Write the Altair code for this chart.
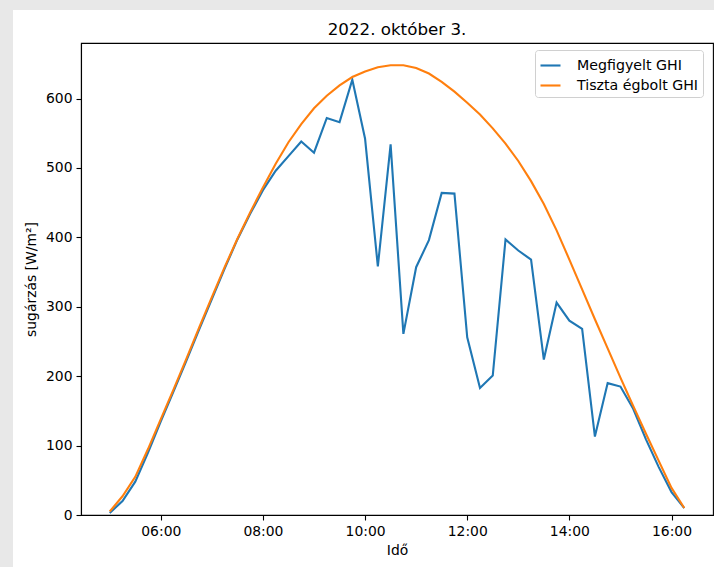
import altair as alt
import pandas as pd

date = "2022-10-03"
title_text = "2022. október 3."
times = ["05:00", "05:15", "05:30", "05:45", "06:00", "06:15", "06:30", "06:45",
         "07:00", "07:15", "07:30", "07:45", "08:00", "08:15", "08:30", "08:45",
         "09:00", "09:15", "09:30", "09:45", "10:00", "10:15", "10:30", "10:45",
         "11:00", "11:15", "11:30", "11:45", "12:00", "12:15", "12:30", "12:45",
         "13:00", "13:15", "13:30", "13:45", "14:00", "14:15", "14:30", "14:45",
         "15:00", "15:15", "15:30", "15:45", "16:00", "16:15"]
observed = [3, 20, 48, 90, 135, 178, 222, 267, 311, 355, 397, 434, 468, 496, 517, 538,
            522, 572, 566, 627, 542, 358, 534, 261, 357, 396, 464, 463, 256, 183, 201, 397,
            381, 368, 224, 306, 280, 268, 113, 190, 185, 153, 109, 69, 33, 10]
clearsky = [5, 27, 55, 95, 138, 181, 225, 270, 314, 357, 398, 436, 472, 506, 537, 563,
            586, 604, 619, 631, 639, 645, 648, 648, 644, 636, 624, 610, 594, 577, 557, 535,
            510, 481, 448, 410, 368, 325, 282, 240, 198, 157, 117, 78, 39, 10]
series_names = ["Megfigyelt GHI", "Tiszta égbolt GHI"]
series_colors = ["#1f77b4", "#ff7f0e"]
x_ticks = ["06:00", "08:00", "10:00", "12:00", "14:00", "16:00"]
y_ticks = [0, 100, 200, 300, 400, 500, 600]

rows = []
for t, o, c in zip(times, observed, clearsky):
    rows.append({"Idő": f"{date}T{t}:00", "series": series_names[0], "value": o})
    rows.append({"Idő": f"{date}T{t}:00", "series": series_names[1], "value": c})
df = pd.DataFrame(rows)


def dt(h, m=0, s=0):
    return alt.DateTime(year=2022, month=10, date=3, hours=h, minutes=m, seconds=s)


FONT = "DejaVu Sans"

lines = alt.Chart(df).mark_line(strokeWidth=2.1, clip=True).encode(
    x=alt.X("Idő:T",
            scale=alt.Scale(domain=[dt(4, 26, 15), dt(16, 48, 45)], nice=False),
            axis=alt.Axis(values=[dt(int(s[:2]), int(s[3:])) for s in x_ticks],
                          format="%H:%M", title="Idő", zindex=1)),
    y=alt.Y("value:Q",
            scale=alt.Scale(domain=[0, 680], nice=False, zero=False),
            axis=alt.Axis(values=y_ticks, title="sugárzás [W/m²]", zindex=1)),
    color=alt.Color("series:N",
                    scale=alt.Scale(domain=series_names, range=series_colors),
                    legend=alt.Legend(orient="none", legendX=454, legendY=7, title=None,
                                      symbolType="stroke", symbolSize=400,
                                      symbolStrokeWidth=2.1, labelFontSize=14.2,
                                      labelFont=FONT, labelColor="black",
                                      padding=4, strokeColor="#d0d0d0",
                                      fillColor="white", cornerRadius=3,
                                      rowPadding=1, labelOffset=15, zindex=1)),
)

band_data = alt.Data(values=[{"k": 0}])
left_band = alt.Chart(band_data).mark_rect(color="#e8e8e8").encode(
    x=alt.value(-81), x2=alt.value(-68), y=alt.value(-43), y2=alt.value(524))
top_band = alt.Chart(band_data).mark_rect(color="#e8e8e8").encode(
    x=alt.value(-81), x2=alt.value(633), y=alt.value(-43), y2=alt.value(-33))
title_mark = alt.Chart(band_data).mark_text(
    text=title_text, font=FONT, fontSize=16.7, color="black",
    align="center", baseline="middle").encode(x=alt.value(316), y=alt.value(-13))

chart = alt.layer(left_band, top_band, title_mark, lines).properties(
    width=632, height=472,
    autosize=alt.AutoSizeParams(type="none"),
    padding={"left": 81, "top": 43, "right": 1, "bottom": 52},
    background="white",
).configure_view(stroke="black", strokeWidth=1.1).configure_axis(
    grid=False, domainColor="black", domainWidth=1.1, tickColor="black", tickSize=5,
    tickWidth=1.1, labelFont=FONT, labelFontSize=13.9, labelColor="black",
    titleFont=FONT, titleFontSize=13.9, titleFontWeight="normal", titleColor="black",
    labelPadding=4,
).configure_axisY(titlePadding=7).configure_axisX(titlePadding=6)

chart.save("out.html", embed_options={"renderer": "svg", "actions": False})
